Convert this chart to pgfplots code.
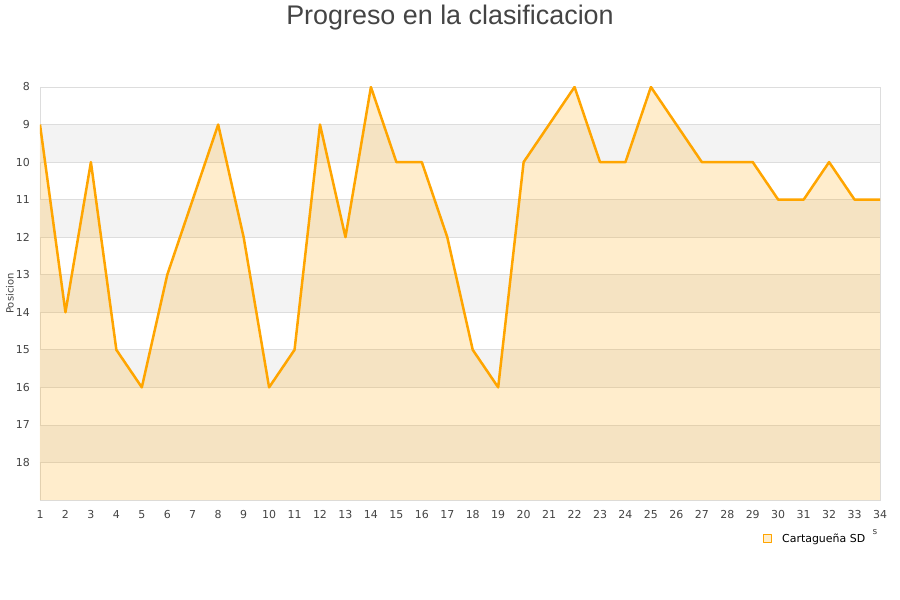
\documentclass[border=0pt]{standalone}
\usepackage{fontspec}
\setmainfont{DejaVu Sans}
\newfontfamily\titlefont{Liberation Sans}
\usepackage{pgfplots}
\pgfplotsset{compat=1.18}
\definecolor{lineor}{HTML}{FFA500}
\definecolor{band}{HTML}{F3F3F3}
\definecolor{gridc}{HTML}{DDDDDD}
\definecolor{txt}{HTML}{444444}
\begin{document}
\begin{tikzpicture}
\path[use as bounding box] (0bp,0bp) rectangle (900bp,600bp);
\node[font=\titlefont\fontsize{27}{30}\selectfont, text=txt] at (450bp,582bp) {Progreso en la clasificacion};
\begin{axis}[
  at={(40bp,100bp)}, anchor=south west,
  scale only axis, width=840bp, height=413bp,
  xmin=1, xmax=34, ymin=8, ymax=19,
  y dir=reverse,
  xtick={1,...,34}, ytick={8,...,18},
  axis line style={gridc, line width=0.8bp},
  tick style={draw=none},
  /pgf/number format/assume math mode=true,
  ticklabel style={font=\fontsize{11}{13}\selectfont, text=txt},
  yticklabel style={anchor=east, inner sep=0pt, xshift=-10bp},
  xticklabel style={anchor=north, inner sep=0pt, yshift=-10bp},
  ylabel={Posicion},
  ylabel style={at={(axis description cs:-0.0357,0.5)}, anchor=center, font=\fontsize{10}{12}\selectfont, text=txt},
  legend style={at={(axis description cs:0.985,-0.094)}, anchor=east, draw=none, fill=none, font=\fontsize{11}{13}\selectfont, text=black, inner sep=0pt,
    /tikz/every odd column/.append style={column sep=8bp}},
  legend cell align=left,
]
\addplot[fill=band, draw=none, forget plot] coordinates {(1,9) (34,9) (34,10) (1,10)} -- cycle;
\addplot[fill=band, draw=none, forget plot] coordinates {(1,11) (34,11) (34,12) (1,12)} -- cycle;
\addplot[fill=band, draw=none, forget plot] coordinates {(1,13) (34,13) (34,14) (1,14)} -- cycle;
\addplot[fill=band, draw=none, forget plot] coordinates {(1,15) (34,15) (34,16) (1,16)} -- cycle;
\addplot[fill=band, draw=none, forget plot] coordinates {(1,17) (34,17) (34,18) (1,18)} -- cycle;
\pgfplotsinvokeforeach{9,...,18}{
  \draw[gridc, line width=0.8bp] (axis cs:1,#1) -- (axis cs:34,#1);
}
\addplot[fill=lineor, fill opacity=0.2, draw=none, forget plot] coordinates {
(1,19) (1,9) (2,14) (3,10) (4,15) (5,16) (6,13) (7,11) (8,9) (9,12) (10,16)
(11,15) (12,9) (13,12) (14,8) (15,10) (16,10) (17,12) (18,15) (19,16) (20,10)
(21,9) (22,8) (23,10) (24,10) (25,8) (26,9) (27,10) (28,10) (29,10) (30,11)
(31,11) (32,10) (33,11) (34,11) (34,19)} -- cycle;
\addplot[lineor, line width=2.5bp, line join=round, mark=none,
  legend image code/.code={\draw[lineor, fill=lineor!20, line width=0.8bp] (0bp,-4bp) rectangle (8bp,4bp);}]
coordinates {
(1,9) (2,14) (3,10) (4,15) (5,16) (6,13) (7,11) (8,9) (9,12) (10,16)
(11,15) (12,9) (13,12) (14,8) (15,10) (16,10) (17,12) (18,15) (19,16) (20,10)
(21,9) (22,8) (23,10) (24,10) (25,8) (26,9) (27,10) (28,10) (29,10) (30,11)
(31,11) (32,10) (33,11) (34,11)};
\addlegendentry{Cartagueña SD}
\end{axis}
\node[font=\fontsize{9}{10}\selectfont, text=txt] at (875bp,68bp) {s};
\end{tikzpicture}
\end{document}
